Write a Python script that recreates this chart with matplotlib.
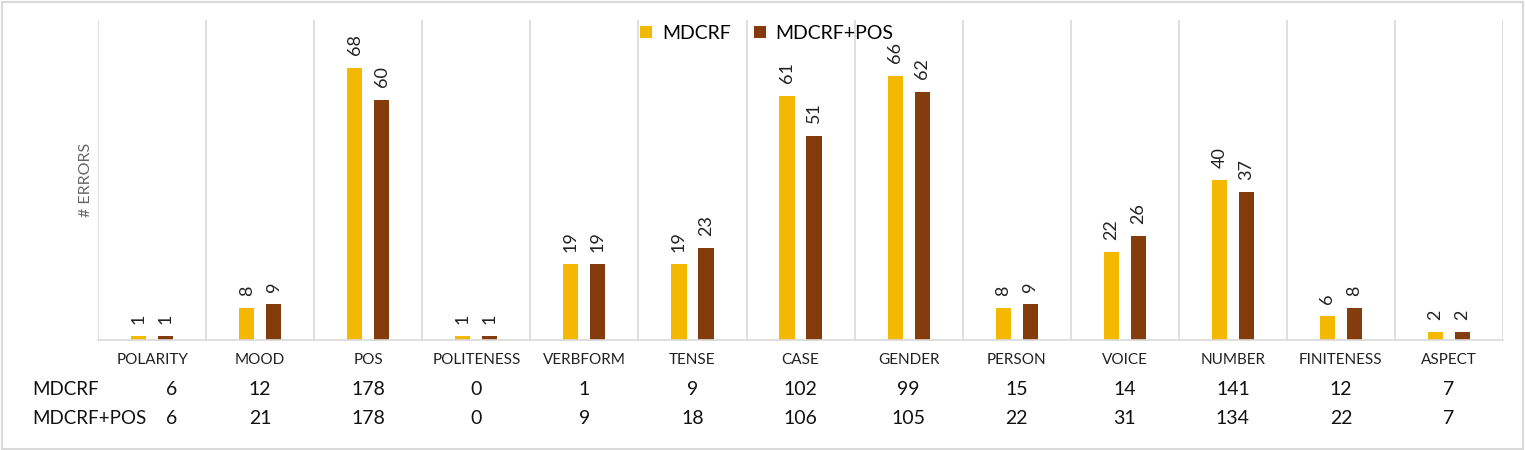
import matplotlib.pyplot as plt
import numpy as np

categories = ['POLARITY', 'MOOD', 'POS', 'POLITENESS', 'VERBFORM', 'TENSE', 'CASE',
              'GENDER', 'PERSON', 'VOICE', 'NUMBER', 'FINITENESS', 'ASPECT']
series_names = ['MDCRF', 'MDCRF+POS']
mdcrf_pct = [1, 8, 68, 1, 19, 19, 61, 66, 8, 22, 40, 6, 2]
mdcrf_pos_pct = [1, 9, 60, 1, 19, 23, 51, 62, 9, 26, 37, 8, 2]
mdcrf_err = [6, 12, 178, 0, 1, 9, 102, 99, 15, 14, 141, 12, 7]
mdcrf_pos_err = [6, 21, 178, 0, 9, 18, 106, 105, 22, 31, 134, 22, 7]

plt.rcParams['font.family'] = ['Lato', 'DejaVu Sans']
colors = ['#F4B800', '#843C0C']

fig = plt.figure(figsize=(15.25, 4.5), dpi=100)
ax = fig.add_axes([0.0643, 0.2444, 0.9213, 0.7112])

x = np.arange(len(categories))
w = 0.14
off = 0.125
b1 = ax.bar(x - off, mdcrf_pct, w, color=colors[0], label=series_names[0])
b2 = ax.bar(x + off, mdcrf_pos_pct, w, color=colors[1], label=series_names[1])
for bars, vals in [(b1, mdcrf_pct), (b2, mdcrf_pos_pct)]:
    for r, v in zip(bars, vals):
        ax.annotate(str(v), (r.get_x() + r.get_width() / 2, v), xytext=(0, 9),
                    textcoords='offset points', rotation=90, ha='center', va='bottom',
                    fontsize=13, color='#222222')

ax.set_xlim(-0.5, len(categories) - 0.5)
ax.set_ylim(0, 80)
for xv in np.arange(-0.5, len(categories), 1.0):
    ax.axvline(xv, color='#D9D9D9', lw=1.2, zorder=0)
for s in ['top', 'right', 'left']:
    ax.spines[s].set_visible(False)
ax.spines['bottom'].set_color('#D9D9D9')
ax.spines['bottom'].set_linewidth(1.2)
ax.set_yticks([])
ax.set_xticks(x)
ax.set_xticklabels(categories, fontsize=11, color='#222222')
ax.tick_params(axis='x', length=0, pad=9)
ax.set_ylabel('# ERRORS', fontsize=11.5, color='#666666', labelpad=4)

# table under the chart
tr = ax.get_xaxis_transform()
row_y = [-0.155, -0.245]
for name, vals, yy in zip(series_names, [mdcrf_err, mdcrf_pos_err], row_y):
    fig.text(0.021, 0.2444 + 0.7112 * yy, name, ha='left', va='center', fontsize=13.5,
             color='#111111')
    for xi, v in zip(x, vals):
        # first column sits a bit to the right, as in the source table
        xx = xi + 0.18 if xi == 0 else xi
        ax.text(xx, yy, str(v), transform=tr, ha='center', va='center', fontsize=14,
                color='#111111', clip_on=False)

ax.legend(loc='upper center', bbox_to_anchor=(0.476, 1.04), ncol=2, frameon=False,
          fontsize=14, handlelength=0.6, handleheight=0.6, columnspacing=1.2,
          handletextpad=0.5)

fig.patches.append(plt.Rectangle((0.001, 0.002), 0.998, 0.994, transform=fig.transFigure,
                                 fill=False, edgecolor='#D9D9D9', lw=1.5))
fig.savefig('out.png', dpi=100)
